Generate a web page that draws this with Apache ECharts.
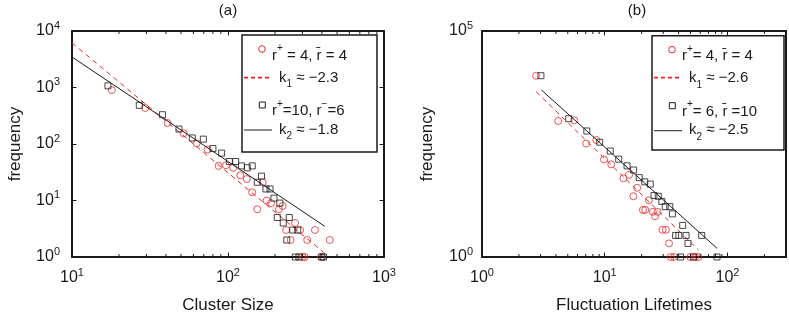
<!DOCTYPE html>
<html>
<head>
<meta charset="utf-8">
<script src="https://cdn.jsdelivr.net/npm/echarts@6/dist/echarts.min.js"></script>
<style>
  html, body { margin: 0; padding: 0; background: #fff; }
  #chart { width: 789px; height: 320px; }
</style>
</head>
<body>
<div id="chart"></div>
<script>
// (a) cluster size distribution
const clusterSizeRed = [18, 29.5, 41, 52, 63, 74, 87, 97, 108, 120, 132, 143, 154, 167, 177, 189, 212, 224, 236, 252, 269, 290, 322, 361, 449, 300, 310, 395];
const clusterFreqRed = [900, 434, 235, 155, 103, 80, 41, 42, 38, 28, 24, 14, 7, 21, 10, 9, 7, 8, 3, 2, 4, 3, 2, 3, 2, 1, 1, 1];
const clusterSizeBlack = [17, 27, 38, 48.5, 59, 69.5, 80, 91, 102, 112, 122, 133, 143, 154, 164, 175, 186, 197, 207, 215, 226, 238, 247, 260, 280, 270, 285, 400, 410];
const clusterFreqBlack = [1070, 484, 330, 184, 128, 122, 83, 69, 49, 49, 41, 38, 41, 21, 27, 16, 16, 11, 5, 9, 4, 2, 5, 3, 3, 1, 1, 1, 1];
// power-law fits, end points
const clusterFitRedX = [10, 417];
const clusterFitRedY = [6170, 1.16];
const clusterFitBlackX = [10, 417];
const clusterFitBlackY = [3470, 3.5];

// (b) fluctuation lifetime distribution
const lifetimeRed = [2.76, 4.18, 5.64, 7.06, 8.55, 9.87, 11.3, 14.2, 15.8, 17.1, 18.4, 20.5, 21.4, 22.9, 24.7, 25.7, 27, 29.6, 31.5, 33.4, 34.5, 36.7, 49.8, 54.6, 58];
const lifetimeFreqRed = [10250, 1020, 1057, 324, 388, 144, 112, 55, 66, 22, 34, 11, 11, 18, 10, 8, 10, 4, 4, 2, 1, 1, 1, 1, 1];
const lifetimeBlack = [3.02, 5.09, 7.15, 9.1, 11.1, 13, 15.2, 17.2, 19.1, 21.2, 23.5, 25.2, 27.3, 29.2, 31.1, 33.9, 35.6, 43.2, 37.8, 40.2, 46, 47.7, 61.7, 41.5, 52.9, 82.2];
const lifetimeFreqBlack = [10250, 1148, 614, 347, 221, 146, 104, 84, 57, 46, 41, 23, 22, 17, 13, 13, 9, 5, 3, 3, 3, 2, 3, 1, 1, 1];
const lifetimeFitRedX = [2.76, 58];
const lifetimeFitRedY = [4540, 1.43];
const lifetimeFitBlackX = [3.05, 82.4];
const lifetimeFitBlackY = [4950, 1.55];

// axis ranges and labelled decades (exponents of ten)
const clusterXRange = [10, 1000];
const clusterYRange = [1, 10000];
const lifetimeXRange = [1, 300];
const lifetimeYRange = [1, 100000];
const clusterXTickExp = [1, 2, 3];
const clusterYTickExp = [0, 1, 2, 3, 4];
const lifetimeXTickExp = [0, 1, 2];
const lifetimeYTickExp = [0, 5];
const clusterMinorTicks = [20, 30, 40, 50, 60, 70, 80, 90, 200, 300, 400, 500, 600, 700, 800, 900];
const lifetimeMinorTicks = [2, 3, 4, 5, 6, 7, 8, 9, 20, 30, 40, 50, 60, 70, 80, 90, 200];

const FONT = '"Liberation Sans", Arial, Helvetica, sans-serif';
const INK = '#1a1a1a';
const RED = '#e8292b';

const zip = (xs, ys) => xs.map((x, i) => [x, ys[i]]);

const powRich = {
  b: { fontFamily: FONT, fontSize: 16, lineHeight: 22, color: INK },
  s: { fontFamily: FONT, fontSize: 11, lineHeight: 9, verticalAlign: 'top', color: INK }
};
function powLabel(exps) {
  return function (v) {
    const l = Math.log10(v);
    const e = Math.round(l);
    if (Math.abs(l - e) > 1e-6 || exps.indexOf(e) < 0) return '';
    return '{b|10}{s|' + e + '}';
  };
}

function logX(gridIndex, range, exps, pos, withName) {
  return {
    type: 'log', logBase: 10, gridIndex, position: pos,
    min: range[0], max: range[1],
    name: withName || '', nameLocation: 'middle', nameGap: 40,
    nameTextStyle: { fontFamily: FONT, fontSize: 17, color: INK },
    axisLine: { show: true, onZero: false, lineStyle: { color: INK, width: 2 } },
    axisTick: { show: true, inside: true, length: 4.5, lineStyle: { color: INK, width: 1 } },
    axisLabel: pos === 'bottom'
      ? { show: true, margin: 10, formatter: powLabel(exps), rich: powRich, showMinLabel: true, showMaxLabel: true }
      : { show: false },
    splitLine: { show: false },
    minorTick: { show: false }
  };
}
function logY(gridIndex, range, exps, pos, withName, gap, margin, ticks) {
  return {
    type: 'log', logBase: 10, gridIndex, position: pos,
    min: range[0], max: range[1],
    name: withName || '', nameLocation: 'middle', nameGap: gap,
    nameTextStyle: { fontFamily: FONT, fontSize: 17, color: INK },
    axisLine: { show: true, onZero: false, lineStyle: { color: INK, width: 2 } },
    axisTick: { show: ticks, inside: true, length: 4.5, lineStyle: { color: INK, width: 1 } },
    axisLabel: pos === 'left'
      ? { show: true, margin: margin, formatter: powLabel(exps), rich: powRich, showMinLabel: true, showMaxLabel: true }
      : { show: false },
    splitLine: { show: false },
    minorTick: { show: false }
  };
}

function minorTicks(xIdx, yIdx, values, yRange) {
  return {
    type: 'custom', xAxisIndex: xIdx, yAxisIndex: yIdx, silent: true, clip: false, z: 5,
    data: values.map(v => [v, yRange[0]]),
    renderItem: function (params, api) {
      const v = api.value(0);
      const b = api.coord([v, yRange[0]]);
      const t = api.coord([v, yRange[1]]);
      const st = { stroke: INK, lineWidth: 1 };
      return {
        type: 'group',
        children: [
          { type: 'line', shape: { x1: b[0], y1: b[1] - 1, x2: b[0], y2: b[1] - 3 }, style: st },
          { type: 'line', shape: { x1: t[0], y1: t[1] + 1, x2: t[0], y2: t[1] + 3 }, style: st }
        ]
      };
    }
  };
}

function circles(xIdx, yIdx, data) {
  return {
    type: 'scatter', xAxisIndex: xIdx, yAxisIndex: yIdx, data, symbol: 'circle', symbolSize: 7,
    itemStyle: { color: 'rgba(0,0,0,0)', borderColor: RED, borderWidth: 1 }, z: 3
  };
}
function squares(xIdx, yIdx, data) {
  return {
    type: 'scatter', xAxisIndex: xIdx, yAxisIndex: yIdx, data, symbol: 'rect', symbolSize: 6,
    itemStyle: { color: 'rgba(0,0,0,0)', borderColor: INK, borderWidth: 1 }, z: 4
  };
}
function fit(xIdx, yIdx, data, color, dashed) {
  return {
    type: 'line', xAxisIndex: xIdx, yAxisIndex: yIdx, data, symbol: 'none', z: dashed ? 3 : 4,
    lineStyle: { color, width: 1, type: dashed ? [5, 4] : 'solid' }
  };
}

// legend text styles
const legRich = {
  t: { fontFamily: FONT, fontSize: 15, lineHeight: 24, color: INK },
  p: { fontFamily: FONT, fontSize: 10, lineHeight: 8, verticalAlign: 'top', color: INK },
  d: { fontFamily: FONT, fontSize: 10, lineHeight: 6, verticalAlign: 'bottom', color: INK }
};
function legText(x, y, text) {
  return {
    type: 'text', x, y, silent: true, z: 101,
    style: { text, rich: legRich, fill: INK, align: 'left', verticalAlign: 'middle', textAlign: 'left', textVerticalAlign: 'middle' }
  };
}
function legendBox(x0, y0, w, h, rows) {
  return {
    type: 'group', silent: true, children: [
      { type: 'rect', z: 100, shape: { x: x0, y: y0, width: w, height: h }, style: { fill: '#fff', stroke: INK, lineWidth: 1.5 } },
      { type: 'circle', z: 101, shape: { cx: x0 + 20, cy: y0 + 14, r: 3.3 }, style: { fill: 'none', stroke: RED, lineWidth: 1 } },
      legText(x0 + 30, y0 + 20.5, rows[0]),
      { type: 'line', z: 101, shape: { x1: x0 + 2, y1: 77.6, x2: x0 + 28, y2: 77.6 }, style: { stroke: '#f02020', lineWidth: 1.6, lineDash: [4, 3] } },
      legText(x0 + 37, y0 + 42.5, rows[1]),
      { type: 'rect', z: 101, shape: { x: x0 + 17.3, y: y0 + 67, width: 6, height: 6 }, style: { fill: 'none', stroke: INK, lineWidth: 1 } },
      legText(x0 + 30, y0 + 76, rows[2]),
      { type: 'line', z: 101, shape: { x1: x0 + 2, y1: y0 + 95, x2: x0 + 30, y2: y0 + 95 }, style: { stroke: INK, lineWidth: 1 } },
      legText(x0 + 37, y0 + 94.5, rows[3])
    ]
  };
}

const chart = echarts.init(document.getElementById('chart'));
chart.setOption({
  animation: false,
  backgroundColor: '#fff',
  grid: [
    { left: 72, top: 31, width: 312, height: 226, containLabel: false },
    { left: 482, top: 31, width: 310, height: 226, containLabel: false }
  ],
  xAxis: [
    logX(0, clusterXRange, clusterXTickExp, 'bottom', 'Cluster Size'),
    logX(0, clusterXRange, clusterXTickExp, 'top'),
    logX(1, lifetimeXRange, lifetimeXTickExp, 'bottom', 'Fluctuation Lifetimes'),
    logX(1, lifetimeXRange, lifetimeXTickExp, 'top')
  ],
  yAxis: [
    logY(0, clusterYRange, clusterYTickExp, 'left', 'frequency', 48, 12, true),
    logY(0, clusterYRange, clusterYTickExp, 'right', '', 0, 0, true),
    logY(1, lifetimeYRange, lifetimeYTickExp, 'left', 'frequency', 46, 9, false),
    logY(1, lifetimeYRange, lifetimeYTickExp, 'right', '', 0, 0, false)
  ],
  series: [
    minorTicks(0, 0, clusterMinorTicks, clusterYRange),
    circles(0, 0, zip(clusterSizeRed, clusterFreqRed)),
    fit(0, 0, zip(clusterFitRedX, clusterFitRedY), RED, true),
    squares(0, 0, zip(clusterSizeBlack, clusterFreqBlack)),
    fit(0, 0, zip(clusterFitBlackX, clusterFitBlackY), INK, false),

    minorTicks(2, 2, lifetimeMinorTicks, lifetimeYRange),
    circles(2, 2, zip(lifetimeRed, lifetimeFreqRed)),
    fit(2, 2, zip(lifetimeFitRedX, lifetimeFitRedY), RED, true),
    squares(2, 2, zip(lifetimeBlack, lifetimeFreqBlack)),
    fit(2, 2, zip(lifetimeFitBlackX, lifetimeFitBlackY), INK, false)
  ],
  graphic: [
    { type: 'text', x: 228, y: 11, silent: true,
      style: { text: '(a)', fill: INK, font: '15px ' + FONT, align: 'center', verticalAlign: 'middle', textAlign: 'center', textVerticalAlign: 'middle' } },
    { type: 'text', x: 637, y: 11, silent: true,
      style: { text: '(b)', fill: INK, font: '15px ' + FONT, align: 'center', verticalAlign: 'middle', textAlign: 'center', textVerticalAlign: 'middle' } },
    legendBox(242, 35, 135, 117, [
      '{t|r}{p|+}{t| = 4, r\u0304 = 4}',
      '{t|k}{d|1}{t| \u2248 \u22122.3}',
      '{t|r}{p|+}{t|=10, r}{p|\u2212}{t|=6}',
      '{t|k}{d|2}{t| \u2248 \u22121.8}'
    ]),
    legendBox(652, 35.7, 132, 114.3, [
      '{t|r}{p|+}{t|= 4, r\u0304 = 4}',
      '{t|k}{d|1}{t| \u2248 \u22122.6}',
      '{t|r}{p|+}{t|= 6, r\u0304 =10}',
      '{t|k}{d|2}{t| \u2248 \u22122.5}'
    ])
  ]
});
</script>
</body>
</html>
